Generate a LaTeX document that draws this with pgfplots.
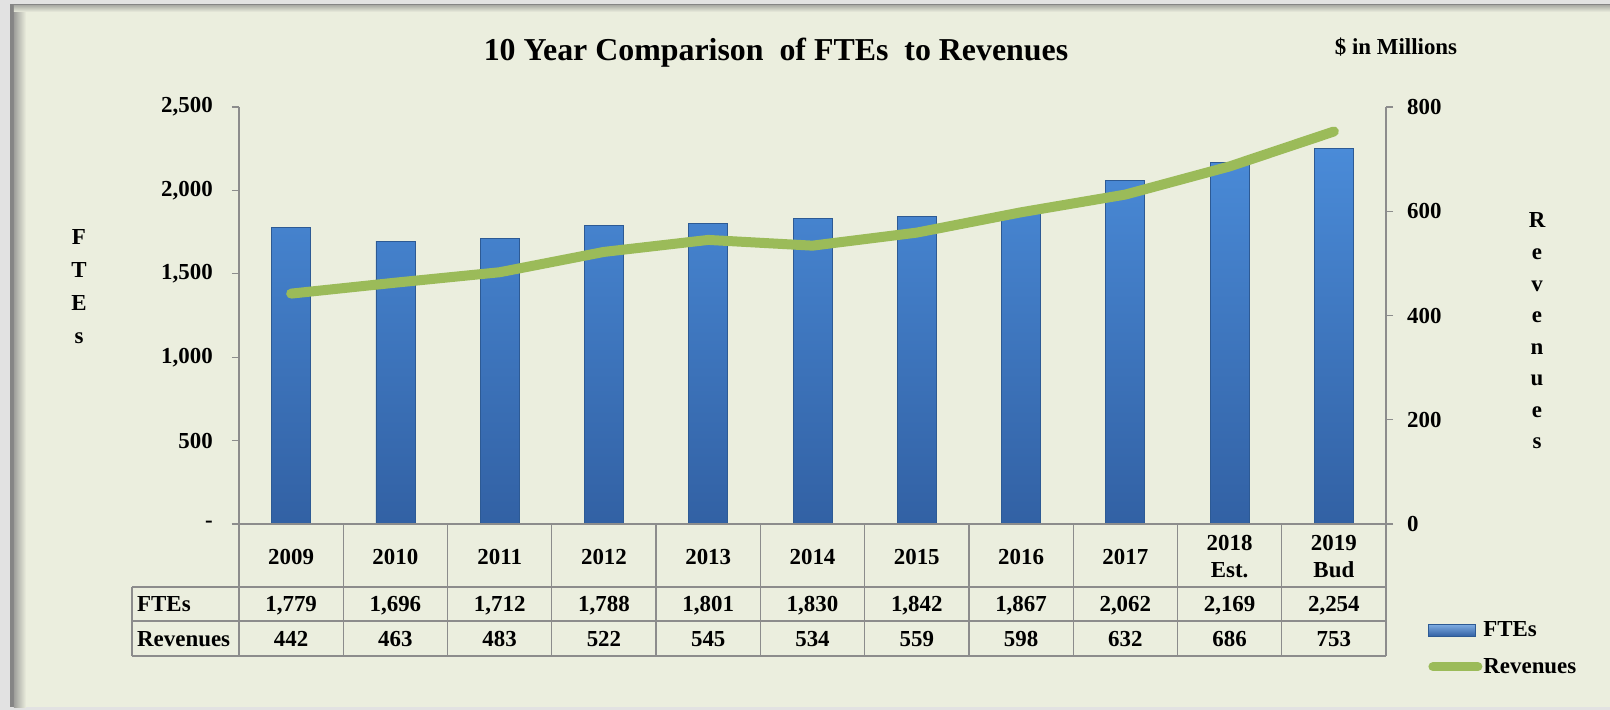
\documentclass[border=0pt]{standalone}
\usepackage{pgfplots}
\pgfplotsset{compat=1.18}
\usepackage{fontspec}
\setmainfont{Liberation Serif}
\definecolor{panel}{HTML}{EBEEDE}
\definecolor{outer}{HTML}{E2E2E2}
\definecolor{framec}{HTML}{858585}
\definecolor{gridgray}{HTML}{8C8C8C}
\definecolor{bartop}{HTML}{4A8BD8}
\definecolor{barbot}{HTML}{3261A4}
\definecolor{baredge}{HTML}{2D5A94}
\definecolor{revgreen}{HTML}{9BBB59}
\newcommand\tf{\fontsize{23}{27}\selectfont\bfseries}
\begin{document}
\begin{tikzpicture}[x=1bp,y=1bp]
% background and frame
\path[use as bounding box, fill=outer] (-239,-186) rectangle (1371,524);
\fill[framec] (-229,-183) rectangle (1371,520);
\fill[panel] (-225,-183) rectangle (1371,518);
\shade[left color=framec!75!panel, right color=panel] (-225,-183) rectangle (-213,518);
\shade[top color=framec!55!panel, bottom color=panel] (-225,512) rectangle (1371,518);

% FTE bars (left axis)
\begin{axis}[
  at={(0,0)}, anchor=south west, scale only axis,
  width=1147bp, height=417bp,
  xmin=-0.5, xmax=10.5, ymin=0, ymax=2500,
  axis y line*=left, axis x line=none, xtick=\empty,
  axis line style={-, draw=gridgray, line width=1.2bp},
  ytick={0,500,1000,1500,2000,2500},
  yticklabels={-,500,{1,000},{1,500},{2,000},{2,500}},
  ytick style={draw=gridgray, line width=1.2bp},
  tick align=outside, major tick length=7bp,
  yticklabel style={font=\tf, text=black, anchor=east, inner sep=0pt, xshift=-19bp},
  every axis y label/.style={at={(axis description cs:-0.1395,0.5695)}, anchor=center, align=center, font=\fontsize{23}{33}\selectfont\bfseries},
  ylabel={F\\T\\E\\s},
  clip=false,
]
\addplot[ybar, bar width=39bp, bar shift=0pt, draw=baredge, line width=0.8bp, top color=bartop, bottom color=barbot]
  coordinates {(0,1779) (1,1696) (2,1712) (3,1788) (4,1801) (5,1830) (6,1842) (7,1867) (8,2062) (9,2169) (10,2254)};
\end{axis}

% Revenues line (right axis)
\begin{axis}[
  at={(0,0)}, anchor=south west, scale only axis,
  width=1147bp, height=417bp,
  xmin=-0.5, xmax=10.5, ymin=0, ymax=800,
  axis y line*=right, axis x line=none, xtick=\empty,
  axis line style={-, draw=gridgray, line width=1.2bp},
  ytick={0,200,400,600,800},
  yticklabels={0,200,400,600,800},
  ytick style={draw=gridgray, line width=1.2bp},
  tick align=outside, major tick length=7bp,
  yticklabel style={font=\tf, text=black, anchor=west, inner sep=0pt, xshift=14bp},
  every axis y label/.style={at={(axis description cs:1.1317,0.4628)}, anchor=center, align=center, font=\fontsize{23}{31.7}\selectfont\bfseries},
  ylabel={R\\e\\v\\e\\n\\u\\e\\s},
  clip=false,
  legend style={at={(axis description cs:1.0366,-0.232)}, anchor=north west, draw=none, fill=none, font=\tf, inner sep=0pt, row sep=18bp, nodes={inner sep=1bp}},
  legend cell align=left,
]
\addlegendimage{legend image code/.code={\fill[top color=bartop!70!white, bottom color=barbot, draw=baredge] (0bp,-6bp) rectangle (47bp,6bp);}}
\addlegendentry{FTEs}
\addplot[revgreen, line width=10bp, line cap=round, line join=round,
  legend image code/.code={\draw[revgreen, line width=9bp, line cap=round] (4.5bp,0bp) -- (49.5bp,0bp);}]
  coordinates {(0,442) (1,463) (2,483) (3,522) (4,545) (5,534) (6,559) (7,598) (8,632) (9,686) (10,753)};
\addlegendentry{Revenues}
\end{axis}

% x axis base line
\draw[gridgray, line width=1.2bp] (-7,0) -- (1154,0);
% data table grid
\def\cw{104.2727}
\foreach \i in {0,...,11} { \draw[gridgray, line width=1.2bp] ({\i*\cw},0) -- ({\i*\cw},-132); }
\draw[gridgray, line width=1.2bp] (-107,-63) -- (-107,-132);
\foreach \yy in {-63,-97,-132} { \draw[gridgray, line width=1.2bp] (-107,\yy) -- (1147,\yy); }
\node[font=\tf, anchor=base west, inner sep=0pt] at (-102,-87.8) {FTEs};
\node[font=\tf, anchor=base west, inner sep=0pt] at (-102,-122.3) {Revenues};
\foreach \i/\yr/\f/\r in {0/2009/{1,779}/442, 1/2010/{1,696}/463, 2/2011/{1,712}/483, 3/2012/{1,788}/522, 4/2013/{1,801}/545, 5/2014/{1,830}/534, 6/2015/{1,842}/559, 7/2016/{1,867}/598, 8/2017/{2,062}/632} {
  \node[font=\tf, anchor=base, inner sep=0pt] at ({(\i+0.5)*\cw},-40.3) {\yr};
}
\foreach \i/\ya/\yb in {9/2018/Est., 10/2019/Bud} {
  \node[font=\tf, anchor=base, inner sep=0pt] at ({(\i+0.5)*\cw},-26.8) {\ya};
  \node[font=\tf, anchor=base, inner sep=0pt] at ({(\i+0.5)*\cw},-53.8) {\yb};
}
\foreach \i/\f/\r in {0/{1,779}/442, 1/{1,696}/463, 2/{1,712}/483, 3/{1,788}/522, 4/{1,801}/545, 5/{1,830}/534, 6/{1,842}/559, 7/{1,867}/598, 8/{2,062}/632, 9/{2,169}/686, 10/{2,254}/753} {
  \node[font=\tf, anchor=base, inner sep=0pt] at ({(\i+0.5)*\cw},-87.8) {\f};
  \node[font=\tf, anchor=base, inner sep=0pt] at ({(\i+0.5)*\cw},-122.3) {\r};
}
% titles
\node[font=\fontsize{32}{36}\selectfont\bfseries] at (537,471) {10 Year Comparison\ \ of FTEs\ \ to Revenues};
\node[font=\tf] at (1157,477) {\$ in Millions};
\end{tikzpicture}
\end{document}
